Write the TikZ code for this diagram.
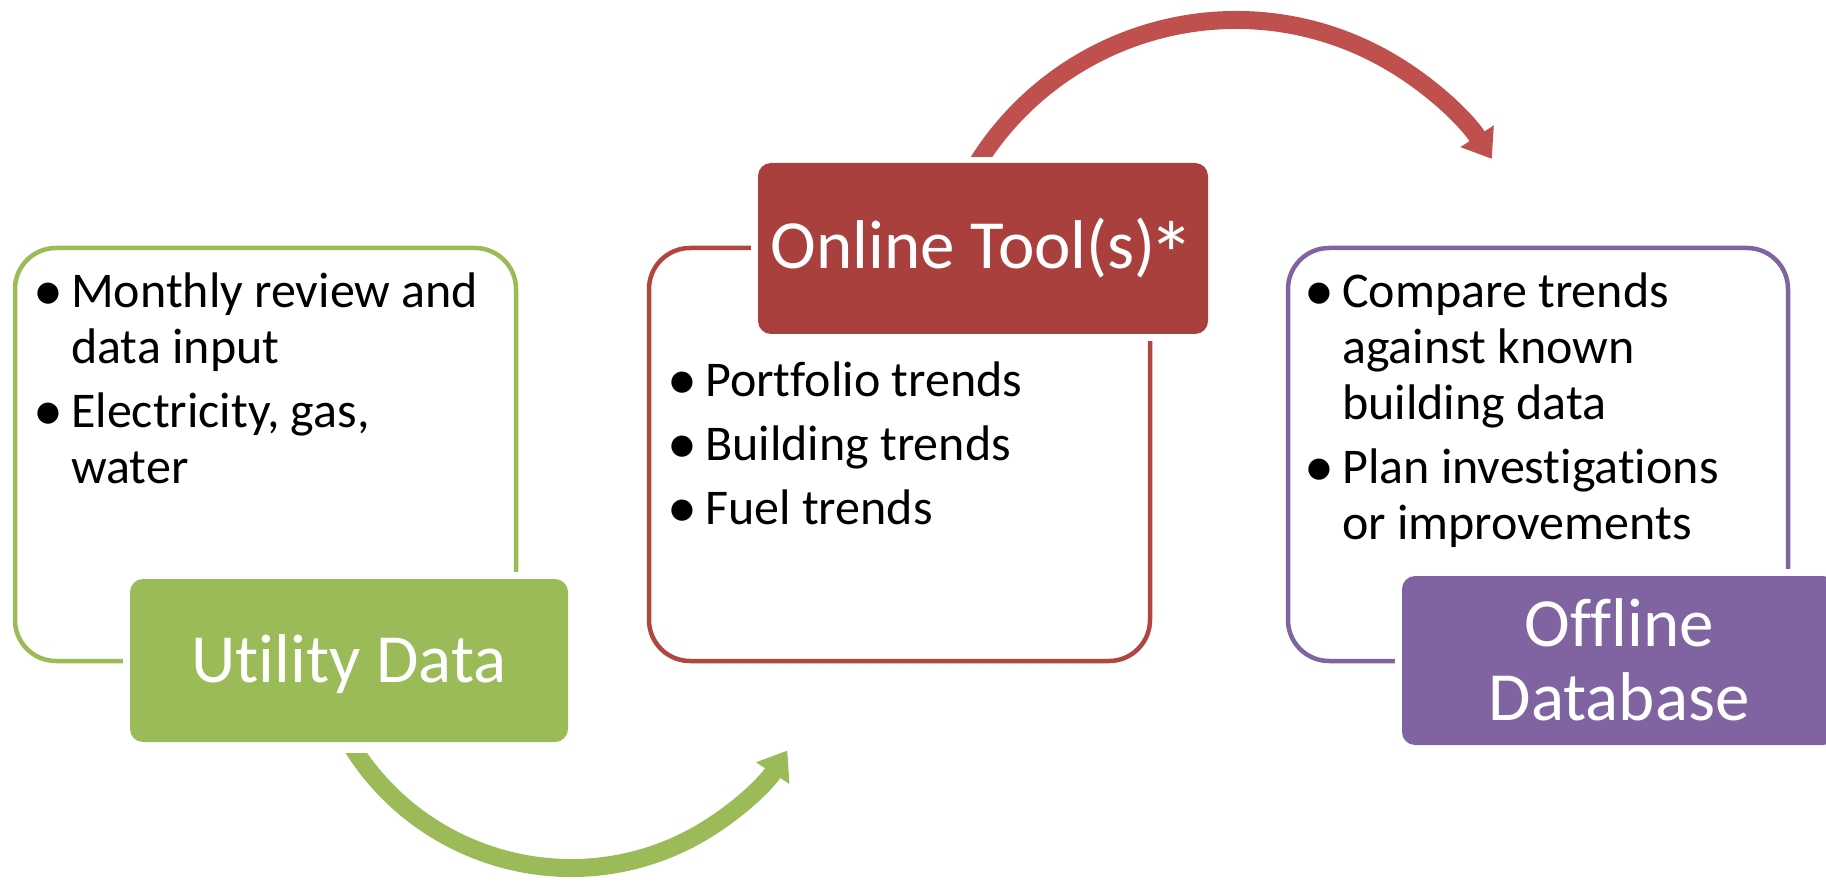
\documentclass[tikz,border=0pt]{standalone}
\usepackage{fontspec}
\setmainfont{Carlito}[Ligatures={NoCommon}]
\usetikzlibrary{arrows.meta,calc}

\definecolor{grn}{HTML}{9BBB59}
\definecolor{redfill}{HTML}{AA403D}
\definecolor{redline}{HTML}{B0463F}
\definecolor{redarrow}{HTML}{C0504D}
\definecolor{prp}{HTML}{8064A2}

\newcommand\bodyfont{\fontsize{50}{56}\selectfont}
\newcommand\titlefont{\fontsize{69}{74}\selectfont}
\newcommand\bul{\makebox[40pt][l]{\hspace*{2pt}\raisebox{-0.05em}{\scalebox{1.2}{\textbullet}}}}
\newcommand\ind{\hspace*{40pt}}
\newcommand\bigast{\kern-0.1em\raisebox{-0.27em}{\scalebox{1.35}{*}}}

\tikzset{
  outlinebox/.style={draw=#1, line width=4.5pt, rounded corners=41pt,
    inner sep=0pt, outer sep=0pt, anchor=north west},
  stagebox/.style={fill=#1, rounded corners=13pt, inner sep=0pt, outer sep=0pt,
    anchor=north west, preaction={draw=white, line width=14pt}},
  stagetitle/.style={text=white, font=\titlefont, inner sep=0pt, anchor=base},
  bullets/.style={font=\bodyfont, text=black, inner sep=0pt, anchor=base west},
  flow/.style={draw=#1, line width=18pt, -{Triangle[length=27pt,width=38pt]}}
}

\begin{document}
\begin{tikzpicture}[x=1pt,y=1pt]
  \useasboundingbox (0,0) rectangle (1826,-882);
  \clip (0,0) rectangle (1826,-882);

  % ---- Utility Data ----
  \node[outlinebox=grn, minimum width=501pt, minimum height=413pt] (gbox) at (15,-248) {};
  \node[bullets] (glist) at (31,-308) {\parbox[t]{475pt}{%
    \bul Monthly review and\\\ind data input\\[8pt]%
    \bul Electricity, gas,\\\ind water}};
  \node[stagebox=grn, minimum width=438pt, minimum height=163pt] (gstage) at (130,-579) {};
  \node[stagetitle] (gtitle) at (349,-682) {Utility Data};

  % ---- Online Tool(s) ----
  \node[outlinebox=redline, minimum width=501pt, minimum height=413pt] (rbox) at (649,-248) {};
  \node[bullets] (rlist) at (665,-397) {\parbox[t]{475pt}{%
    \bul Portfolio trends\\[8pt]%
    \bul Building trends\\[8pt]%
    \bul Fuel trends}};
  \node[stagebox=redfill, minimum width=450pt, minimum height=171pt] (rstage) at (758,-163) {};
  \node[stagetitle] (rtitle) at (983,-269) {Online Tool(s)\bigast};

  % ---- Offline Database ----
  \node[outlinebox=prp, minimum width=500pt, minimum height=413pt] (pbox) at (1288,-248) {};
  \node[bullets] (plist) at (1302,-308) {\parbox[t]{485pt}{%
    \bul Compare trends\\\ind against known\\\ind building data\\[8pt]%
    \bul Plan investigations\\\ind or improvements}};
  \node[stagebox=prp, minimum width=434pt, minimum height=169pt] (pstage) at (1402,-576) {};
  \node[stagetitle] (ptitle) at (1619,-646)
    {\begin{tabular}[t]{@{}c@{}}Offline\\Database\end{tabular}};

  % ---- curved flow arrows ----
  \coordinate (gcenter) at (571,-610);
  \coordinate (gstart) at ($(gcenter)+(210:258)$);
  \begin{scope}
    \clip (0,-753) -- (480,-753) -- (480,-700) -- (1826,-700) -- (1826,-882) -- (0,-882) -- cycle;
    \draw[flow=grn] (gstart) arc[start angle=210, end angle=327, radius=258];
  \end{scope}

  \coordinate (rcenter) at (1236,-325);
  \coordinate (rstart) at ($(rcenter)+(150:305)$);
  \begin{scope}
    \clip (0,-157) -- (1100,-157) -- (1100,-200) -- (1826,-200) -- (1826,0) -- (0,0) -- cycle;
    \draw[flow=redarrow] (rstart) arc[start angle=150, end angle=33, radius=305];
  \end{scope}
\end{tikzpicture}
\end{document}
